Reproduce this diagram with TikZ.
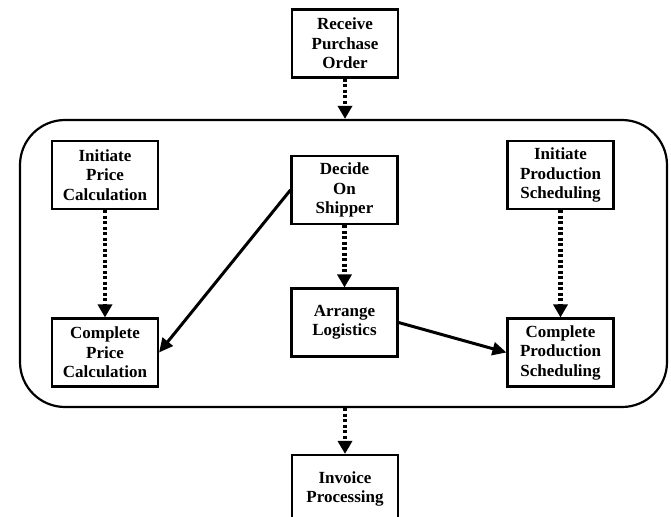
\documentclass[tikz,border=0pt]{standalone}
\usepackage{fontspec}
\setmainfont{Liberation Serif}
\usetikzlibrary{arrows.meta}
\begin{document}
\begin{tikzpicture}[x=1pt,y=-1pt,
  task/.style={draw, line width=2.1pt, minimum width=106pt, minimum height=68pt,
    inner sep=2pt, align=center, font=\fontsize{17}{19.5}\selectfont\bfseries},
  group/.style={draw, line width=2.2pt, rounded corners=45pt,
    minimum width=647pt, minimum height=287pt, inner sep=0pt},
  flow/.style={line width=4.2pt, dash pattern=on 3pt off 2.5pt,
    -{Triangle[width=14pt,length=13pt]}},
  link/.style={line width=3pt, -{Triangle[width=13pt,length=14pt]}}
]
\useasboundingbox (0,0) rectangle (671,516);

% enclosing process group
\node[group] (grp) at (343.5,263.5) {};

% tasks
\node[task] (receive) at (345,43.5) {Receive\\Purchase\\Order};
\node[task] (initP)   at (105,175)  {Initiate\\Price\\Calculation};
\node[task] (decide)  at (344.5,190) {Decide\\On\\Shipper};
\node[task] (initS)   at (560.5,175) {Initiate\\Production\\Scheduling};
\node[task] (arrange) at (344.5,322.5) {Arrange\\Logistics};
\node[task] (complP)  at (105,352.5) {Complete\\Price\\Calculation};
\node[task] (complS)  at (560.5,352.5) {Complete\\Production\\Scheduling};
\node[task] (invoice) at (345,489) {Invoice\\Processing};

% sequence flows
\draw[flow] (receive.south) -- (receive.south |- grp.north);
\draw[flow] (initP) -- (complP);
\draw[flow] (decide) -- (arrange);
\draw[flow] (initS) -- (complS);
\draw[flow] (invoice.north |- grp.south) -- (invoice.north);

% dependencies
\draw[link] (decide.west) -- (complP.east);
\draw[link] (arrange.east) -- (complS.west);
\end{tikzpicture}
\end{document}
